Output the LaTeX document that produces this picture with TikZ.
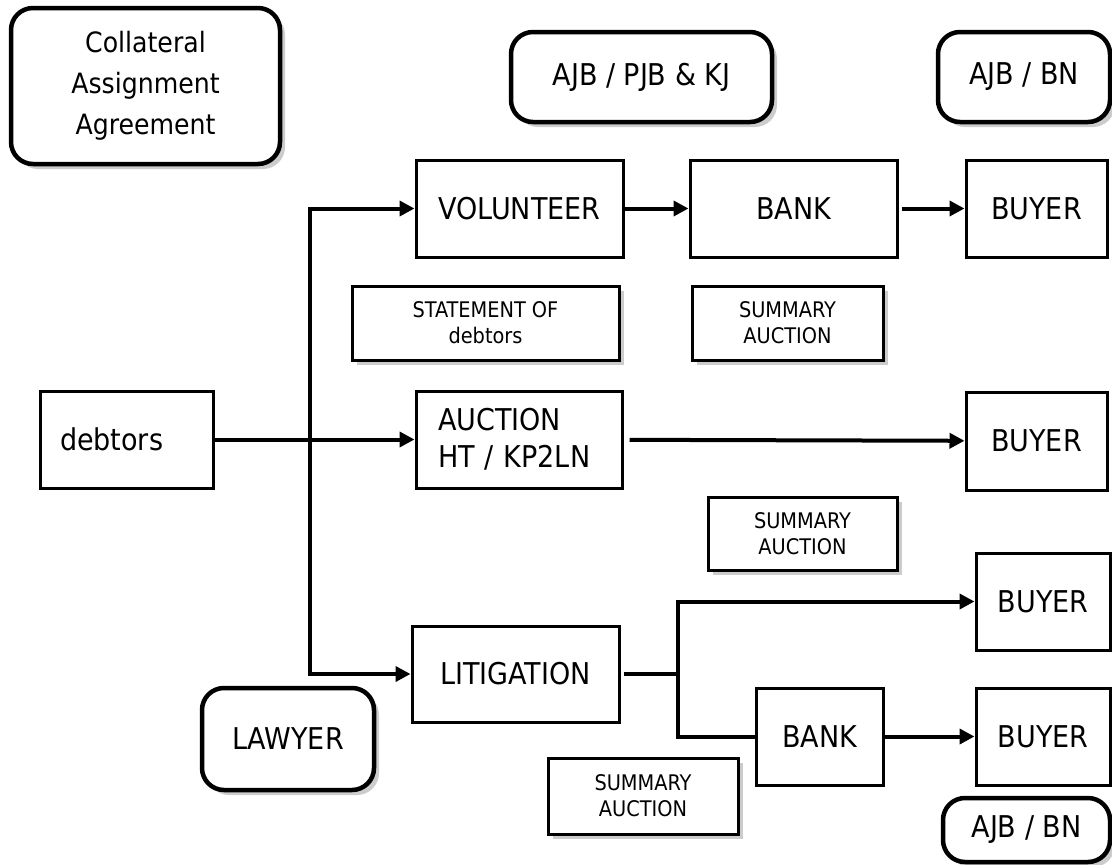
\documentclass[tikz,border=0pt]{standalone}
\usepackage{fontspec}
\setmainfont{DejaVu Sans Condensed}
\usepackage{tikz}
\usetikzlibrary{arrows.meta,shadows}

\begin{document}
\begin{tikzpicture}[
   x=1pt,y=-1pt,
   font=\fontsize{30}{37}\selectfont,
   box/.style={draw,line width=3pt,inner sep=0pt},
   roundbox/.style={draw,line width=4.5pt,rounded corners=22pt,fill=white,inner sep=0pt,
      drop shadow={shadow xshift=5pt,shadow yshift=-5pt,fill=black!40}},
   note/.style={draw,line width=3pt,fill=white,inner sep=0pt,align=center,
      font=\fontsize{21.5}{26}\selectfont,
      drop shadow={shadow xshift=5pt,shadow yshift=-5pt,fill=black!40}},
   to/.style={-{Triangle[length=15pt,width=15pt]},line width=4pt},
   line/.style={line width=4pt},
   every node/.style={align=center}]
\useasboundingbox (0,0) rectangle (1112,865);
% labels above the boxes
\node[roundbox,minimum width=269pt,minimum height=156pt,font=\fontsize{28}{41}\selectfont] (collateral) at (145.5,86) {Collateral\\Assignment\\Agreement};
\node[roundbox,minimum width=261pt,minimum height=90pt] (ajbpjb) at (641.5,77) {AJB / PJB \& KJ};
\node[roundbox,minimum width=172pt,minimum height=90pt] (ajbbn) at (1024,77) {AJB / BN};
\node[roundbox,minimum width=172pt,minimum height=102pt] (lawyer) at (288,739) {LAWYER};
\node[roundbox,minimum width=167pt,minimum height=64pt] (ajbbnb) at (1026.5,830) {AJB / BN};
% process boxes
\node[box,minimum width=173pt,minimum height=97pt,text width=133pt,align=left] (debtors) at (126.5,439.5) {debtors};
\node[box,minimum width=207pt,minimum height=97pt] (volunteer) at (519.5,208.5) {VOLUNTEER};
\node[box,minimum width=207pt,minimum height=97pt] (bank) at (793.5,208.5) {BANK};
\node[box,minimum width=141pt,minimum height=97pt] (buyer) at (1036.5,208.5) {BUYER};
\node[box,minimum width=206pt,minimum height=97pt,text width=162pt,align=left] (auction) at (519,439.5) {AUCTION\\HT / KP2LN};
\node[box,minimum width=141pt,minimum height=98pt] (buyerb) at (1036.5,441) {BUYER};
\node[box,minimum width=207pt,minimum height=96pt] (litigation) at (515.5,674) {LITIGATION};
\node[box,minimum width=134pt,minimum height=97pt] (buyerc) at (1043,601.5) {BUYER};
\node[box,minimum width=127pt,minimum height=97pt] (bankb) at (819.5,736.5) {BANK};
\node[box,minimum width=134pt,minimum height=97pt] (buyerd) at (1043,736.5) {BUYER};
% notes
\node[note,minimum width=267pt,minimum height=74pt] (statement) at (485.5,323) {STATEMENT OF\\debtors};
\node[note,minimum width=191pt,minimum height=74pt] (summary) at (787.5,323) {SUMMARY\\AUCTION};
\node[note,minimum width=189pt,minimum height=73pt] (summaryb) at (802.5,533.5) {SUMMARY\\AUCTION};
\node[note,minimum width=190pt,minimum height=76pt] (summaryc) at (643,796) {SUMMARY\\AUCTION};
% connectors
\coordinate (split) at (310,441);
\coordinate (fork) at (678,674);
\draw[to] (debtors) -- (auction);
\draw[to] (split) |- (volunteer);
\draw[to] (split) |- (litigation);
\draw[to] (volunteer) -- (bank);
\draw[to,shorten <=3pt] (bank) -- (buyer);
\draw[to,shorten <=6pt] (auction) -- (buyerb);
\draw[line,shorten <=3pt] (litigation) -- (fork);
\draw[to] (fork) |- (buyerc);
\draw[line] (fork) |- (bankb);
\draw[to] (bankb) -- (buyerd);
\end{tikzpicture}
\end{document}
